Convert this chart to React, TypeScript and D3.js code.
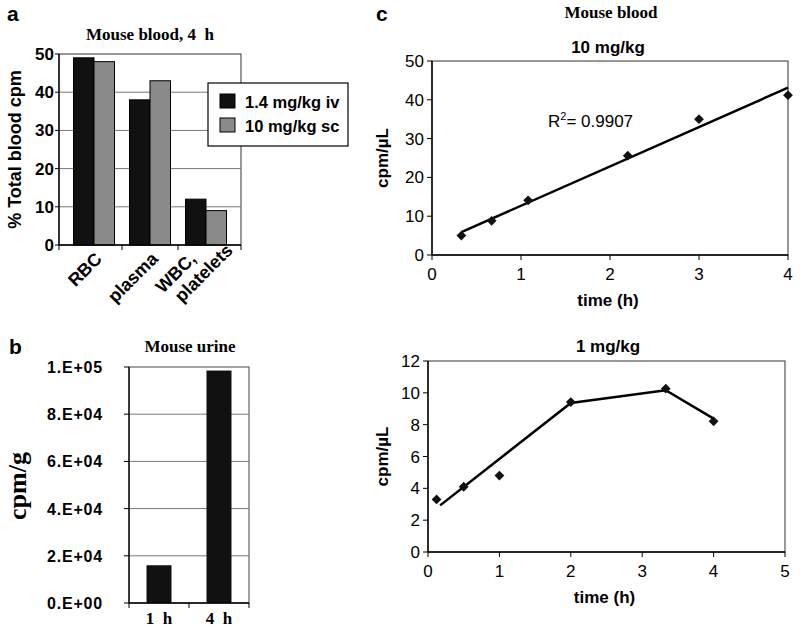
import React from 'react';
import * as d3 from 'd3';

// panel a: mouse blood, 4 h
const bloodCategories = ['RBC', 'plasma', 'WBC,|platelets'];
const iv14Values = [49, 38, 12];
const sc10Values = [48, 43, 9];
const bloodSeries = ['1.4 mg/kg iv', '10 mg/kg sc'];
const bloodTicks = [0, 10, 20, 30, 40, 50];

// panel b: mouse urine
const urineCategories = ['1  h', '4  h'];
const urineValues = [16000, 98500];
const urineTicks = [0, 20000, 40000, 60000, 80000, 100000];
const urineTickLabels = ['0.E+00', '2.E+04', '4.E+04', '6.E+04', '8.E+04', '1.E+05'];

// panel c top: 10 mg/kg
const time10 = [0.33, 0.67, 1.08, 2.2, 3.0, 4.0];
const cpm10 = [5.0, 8.8, 14.1, 25.6, 35.0, 41.2];
const xTicks10 = [0, 1, 2, 3, 4];
const yTicks10 = [0, 10, 20, 30, 40, 50];

// panel c bottom: 1 mg/kg
const time1 = [0.12, 0.5, 1.0, 2.0, 3.33, 4.0];
const cpm1 = [3.3, 4.1, 4.8, 9.42, 10.26, 8.21];
const fitTime1 = [0.17, 2.0, 3.33, 4.0];
const fitCpm1 = [2.93, 9.36, 10.16, 8.38];
const xTicks1 = [0, 1, 2, 3, 4, 5];
const yTicks1 = [0, 2, 4, 6, 8, 10, 12];

const SANS = 'Liberation Sans, Arial, sans-serif';
const SERIF = 'Liberation Serif, Times New Roman, serif';
const BLACK = '#111';
const GRAY = '#8a8a8a';

function PanelA() {
  const f = { x0: 59, x1: 241, y0: 54, y1: 245 };
  const y = d3.scaleLinear().domain([0, 50]).range([f.y1, f.y0]);
  const x = d3.scaleBand().domain(bloodCategories).range([66, 234]).paddingInner(0.268).paddingOuter(0.134);
  const x1 = d3.scaleBand().domain(['0', '1']).range([0, x.bandwidth()]);
  const step = x.step();
  const gap = (step - x.bandwidth()) / 2;
  const catTicks = [f.x0, ...bloodCategories.slice(0, -1).map(c => (x(c) as number) + x.bandwidth() + gap), f.x1];
  const colors = [BLACK, GRAY];
  return (
    <g>
      <text x={7} y={21} fontFamily={SANS} fontWeight="bold" fontSize={21}>a</text>
      <text x={150} y={40} textAnchor="middle" fontFamily={SERIF} fontWeight="bold" fontSize={17} style={{ whiteSpace: 'pre' }}>Mouse blood, 4  h</text>
      <rect x={f.x0} y={f.y0} width={f.x1 - f.x0} height={f.y1 - f.y0} fill="white" stroke="#333" />
      {bloodTicks.slice(1, -1).map(t => (
        <line key={t} x1={f.x0} x2={f.x1} y1={y(t)} y2={y(t)} stroke="#777" />
      ))}
      {bloodCategories.map((c, i) => [iv14Values[i], sc10Values[i]].map((v, j) => (
        <rect key={c + j} x={(x(c) as number) + (x1(String(j)) as number)} y={y(v)} width={x1.bandwidth()}
          height={y(0) - y(v)} fill={colors[j]} stroke="black" strokeWidth={1} />
      )))}
      <line x1={f.x0} x2={f.x0} y1={f.y0} y2={f.y1} stroke="black" strokeWidth={1.3} />
      <line x1={f.x0} x2={f.x1} y1={f.y1} y2={f.y1} stroke="black" strokeWidth={1.3} />
      {bloodTicks.map(t => (
        <g key={t}>
          <line x1={f.x0 - 4} x2={f.x0} y1={y(t)} y2={y(t)} stroke="black" />
          <text x={54} y={y(t) + 6} textAnchor="end" fontFamily={SANS} fontWeight="bold" fontSize={17}>{t}</text>
        </g>
      ))}
      {catTicks.map((t, i) => (
        <line key={i} x1={t} x2={t} y1={f.y1} y2={f.y1 + 5} stroke="black" />
      ))}
      {bloodCategories.map(c => {
        const cx = (x(c) as number) + x.bandwidth() / 2;
        const lines = c.split('|');
        if (lines.length === 1) {
          return (
            <text key={c} transform={`translate(${cx + 9},${f.y1 + 15}) rotate(-45)`} textAnchor="end"
              fontFamily={SANS} fontWeight="bold" fontSize={18}>{c}</text>
          );
        }
        return (
          <g key={c} transform={`translate(${cx - 43},${f.y1 + 49}) rotate(-45)`}>
            {lines.map((l, k) => (
              <text key={l} x={k * 7} y={k * 20} fontFamily={SANS} fontWeight="bold" fontSize={18}>{l}</text>
            ))}
          </g>
        );
      })}
      <g>
        <rect x={208} y={83} width={140} height={63} fill="white" stroke="black" strokeWidth={1.2} />
        {bloodSeries.map((s, i) => (
          <g key={s}>
            <rect x={220} y={94 + i * 24} width={15} height={14} fill={colors[i]} stroke="black" />
            <text x={245} y={108 + i * 24} fontFamily={SANS} fontWeight="bold" fontSize={16.5}>{s}</text>
          </g>
        ))}
      </g>
      <text transform={`translate(21,${(f.y0 + f.y1) / 2}) rotate(-90)`} textAnchor="middle" fontFamily={SANS}
        fontWeight="bold" fontSize={18}>% Total blood cpm</text>
    </g>
  );
}

function PanelB() {
  const f = { x0: 129, x1: 249, y0: 367, y1: 603 };
  const y = d3.scaleLinear().domain([0, 100000]).range([f.y1, f.y0]);
  const x = d3.scaleBand().domain(urineCategories).range([f.x0, f.x1]).paddingInner(0.583).paddingOuter(0.2917);
  const catTicks = [f.x0, (f.x0 + f.x1) / 2, f.x1];
  return (
    <g>
      <text x={9} y={354} fontFamily={SANS} fontWeight="bold" fontSize={21}>b</text>
      <text x={190} y={352} textAnchor="middle" fontFamily={SERIF} fontWeight="bold" fontSize={17}>Mouse urine</text>
      <rect x={f.x0} y={f.y0} width={f.x1 - f.x0} height={f.y1 - f.y0} fill="white" stroke="#444" />
      {urineTicks.slice(1, -1).map(t => (
        <line key={t} x1={f.x0} x2={f.x1} y1={y(t)} y2={y(t)} stroke="#777" />
      ))}
      {urineCategories.map((c, i) => (
        <rect key={c} x={x(c)} y={y(urineValues[i])} width={x.bandwidth()} height={y(0) - y(urineValues[i])} fill={BLACK} />
      ))}
      <line x1={f.x0} x2={f.x0} y1={f.y0} y2={f.y1} stroke="black" strokeWidth={1.3} />
      <line x1={f.x0} x2={f.x1} y1={f.y1} y2={f.y1} stroke="black" strokeWidth={1.3} />
      {urineTicks.map((t, i) => (
        <g key={t}>
          <line x1={f.x0 - 5} x2={f.x0} y1={y(t)} y2={y(t)} stroke="black" />
          <text x={103} y={y(t) + 6} textAnchor="end" fontFamily={SANS} fontWeight="bold" fontSize={16}
            letterSpacing={0.8}>{urineTickLabels[i]}</text>
        </g>
      ))}
      {catTicks.map((t, i) => (
        <line key={i} x1={t} x2={t} y1={f.y1} y2={f.y1 + 5} stroke="black" />
      ))}
      {urineCategories.map(c => (
        <text key={c} x={(x(c) as number) + x.bandwidth() / 2} y={624} textAnchor="middle" fontFamily={SERIF}
          fontWeight="bold" fontSize={17} style={{ whiteSpace: 'pre' }}>{c}</text>
      ))}
      <text transform={`translate(26,486) rotate(-90)`} textAnchor="middle" fontFamily={SERIF} fontWeight="bold"
        fontSize={26}>cpm/g</text>
    </g>
  );
}

function Diamonds({ xs, ys, x, y }: any) {
  const sym = d3.symbol().type(d3.symbolSquare).size(48)();
  return (
    <g>
      {xs.map((t: number, i: number) => (
        <path key={i} d={sym as string} transform={`translate(${x(t)},${y(ys[i])}) rotate(45)`} fill={BLACK} />
      ))}
    </g>
  );
}

function Frame({ f, x, y, xTicks, yTicks }: any) {
  return (
    <g>
      <rect x={f.x0} y={f.y0} width={f.x1 - f.x0} height={f.y1 - f.y0} fill="white" stroke="#333" />
      <line x1={f.x0} x2={f.x0} y1={f.y0} y2={f.y1} stroke="black" strokeWidth={1.4} />
      <line x1={f.x0} x2={f.x1} y1={f.y1} y2={f.y1} stroke="black" strokeWidth={1.4} />
      {yTicks.map((t: number) => (
        <g key={'y' + t}>
          <line x1={f.x0 - 5} x2={f.x0} y1={y(t)} y2={y(t)} stroke="black" />
          <text x={f.x0 - 8} y={y(t) + 6} textAnchor="end" fontFamily={SANS} fontSize={17}>{t}</text>
        </g>
      ))}
      {xTicks.map((t: number) => (
        <g key={'x' + t}>
          <line x1={x(t)} x2={x(t)} y1={f.y1} y2={f.y1 + 5} stroke="black" />
          <text x={x(t)} y={f.y1 + 25} textAnchor="middle" fontFamily={SANS} fontSize={17}>{t}</text>
        </g>
      ))}
      <text x={(f.x0 + f.x1) / 2 - 2} y={f.y1 + 51} textAnchor="middle" fontFamily={SANS} fontWeight="bold"
        fontSize={17}>time (h)</text>
      <text transform={`translate(388,${(f.y0 + f.y1) / 2}) rotate(-90)`} textAnchor="middle" fontFamily={SANS}
        fontWeight="bold" fontSize={17}>cpm/µL</text>
    </g>
  );
}

function PanelC() {
  const f1 = { x0: 432, x1: 788, y0: 61, y1: 255 };
  const xa = d3.scaleLinear().domain([0, 4]).range([f1.x0, f1.x1]);
  const ya = d3.scaleLinear().domain([0, 50]).range([f1.y1, f1.y0]);
  // least squares trend line
  const mx = d3.mean(time10) as number;
  const my = d3.mean(cpm10) as number;
  const slope = d3.sum(time10.map((t, i) => (t - mx) * (cpm10[i] - my))) / d3.sum(time10.map(t => (t - mx) ** 2));
  const icpt = my - slope * mx;
  const tx = d3.extent(time10) as [number, number];
  const trend = d3.line<number>().x(t => xa(t)).y(t => ya(icpt + slope * t))(tx);

  const f2 = { x0: 428, x1: 785, y0: 361, y1: 552 };
  const xb = d3.scaleLinear().domain([0, 5]).range([f2.x0, f2.x1]);
  const yb = d3.scaleLinear().domain([0, 12]).range([f2.y1, f2.y0]);
  const fit = d3.line<number>().x(t => xb(t)).y((t, i) => yb(fitCpm1[i]))(fitTime1);

  return (
    <g>
      <text x={376} y={21} fontFamily={SANS} fontWeight="bold" fontSize={21}>c</text>
      <text x={611} y={18} textAnchor="middle" fontFamily={SERIF} fontWeight="bold" fontSize={17}>Mouse blood</text>
      <text x={608} y={53} textAnchor="middle" fontFamily={SANS} fontWeight="bold" fontSize={17}>10 mg/kg</text>
      <Frame f={f1} x={xa} y={ya} xTicks={xTicks10} yTicks={yTicks10} />
      <path d={trend as string} fill="none" stroke="black" strokeWidth={2.5} />
      <Diamonds xs={time10} ys={cpm10} x={xa} y={ya} />
      <text x={548} y={127} fontFamily={SANS} fontSize={17}>R<tspan dy={-7} fontSize={11}>2</tspan><tspan dy={7}>= 0.9907</tspan></text>

      <text x={608} y={352} textAnchor="middle" fontFamily={SANS} fontWeight="bold" fontSize={17}>1 mg/kg</text>
      <Frame f={f2} x={xb} y={yb} xTicks={xTicks1} yTicks={yTicks1} />
      <path d={fit as string} fill="none" stroke="black" strokeWidth={2.5} />
      <Diamonds xs={time1} ys={cpm1} x={xb} y={yb} />
    </g>
  );
}

export default function App() {
  return (
    <svg width={800} height={631} style={{ position: 'absolute', left: 0, top: 0, background: 'white' }}>
      <rect width={800} height={631} fill="white" />
      <PanelA />
      <PanelB />
      <PanelC />
    </svg>
  );
}
